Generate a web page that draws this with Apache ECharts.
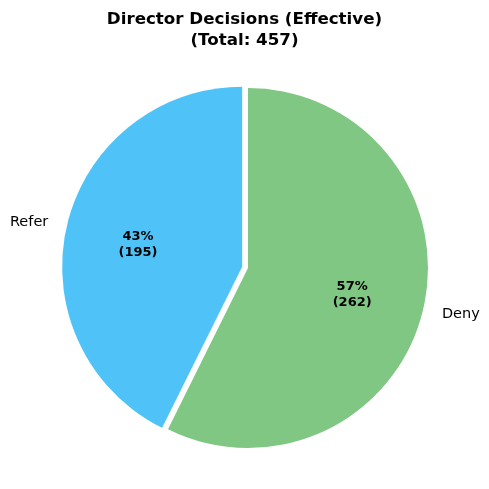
<!DOCTYPE html>
<html>
<head>
<meta charset="utf-8">
<script src="https://cdn.jsdelivr.net/npm/echarts@6/dist/echarts.min.js"></script>
<style>
html, body { margin: 0; padding: 0; background: #fff; }
#chart { width: 489px; height: 489px; }
</style>
</head>
<body>
<div id="chart"></div>
<script>
// 数据
var categories = ['Deny', 'Refer'];
var counts = [262, 195];
var colors = ['#81C784', '#4FC3F7'];
var exploded = [false, true];

var total = counts.reduce(function (a, b) { return a + b; }, 0);
var font = 'DejaVu Sans';

function buildData(withColor) {
    return categories.map(function (name, i) {
        return {
            name: name,
            value: counts[i],
            selected: exploded[i],
            itemStyle: withColor ? { color: colors[i] } : { color: 'rgba(0,0,0,0)' }
        };
    });
}

var chart = echarts.init(document.getElementById('chart'));
chart.setOption({
    animation: false,
    title: {
        text: 'Director Decisions (Effective)\n(Total: ' + total + ')',
        left: 'center',
        top: 4,
        textStyle: {
            fontFamily: font,
            fontWeight: 'bold',
            fontSize: 16.7,
            lineHeight: 21,
            color: '#000'
        }
    },
    series: [
        {
            type: 'pie',
            center: [248, 268],
            radius: [0, 180],
            startAngle: 90,
            clockwise: true,
            selectedMode: 'multiple',
            selectedOffset: 6,
            silent: true,
            emphasis: { disabled: true },
            label: {
                position: 'outside',
                formatter: '{b}',
                overflow: 'none',
                edgeDistance: 0,
                offset: [0, 2],
                fontFamily: font,
                fontSize: 14.5,
                color: '#000'
            },
            labelLine: { show: false, length: 14, length2: 0 },
            data: buildData(true)
        },
        {
            type: 'pie',
            center: [248, 270],
            radius: [28, 180],
            startAngle: 90,
            clockwise: true,
            selectedMode: 'multiple',
            selectedOffset: 6,
            silent: true,
            emphasis: { disabled: true },
            label: {
                position: 'inner',
                formatter: function (p) {
                    return Math.round(p.percent) + '%\n(' + p.value + ')';
                },
                fontFamily: font,
                fontWeight: 'bold',
                fontSize: 13,
                lineHeight: 16,
                color: '#000'
            },
            labelLine: { show: false },
            data: buildData(false)
        }
    ]
});
</script>
</body>
</html>
